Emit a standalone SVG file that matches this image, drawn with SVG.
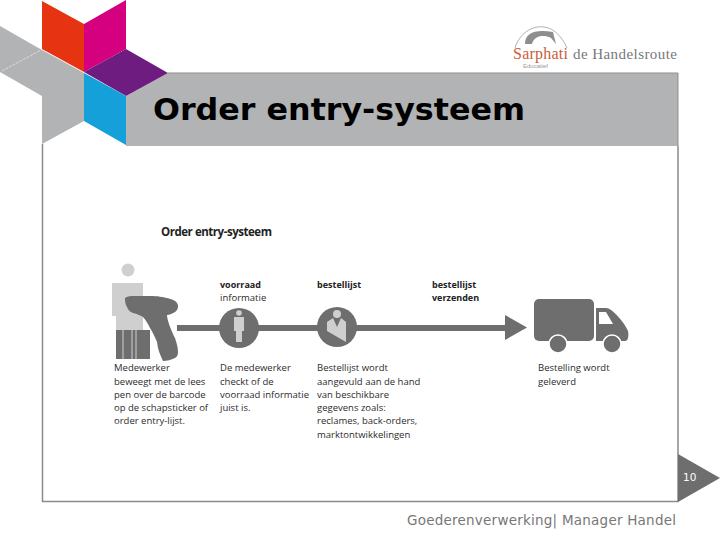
<svg xmlns="http://www.w3.org/2000/svg" width="720" height="540" viewBox="0 0 720 540">
<style>
.b{font-family:"Open Sans","Liberation Sans",sans-serif;font-size:9.500px;fill:#2c2c2c}
.h{font-family:"Open Sans","Liberation Sans",sans-serif;font-size:9px;font-weight:700;fill:#222}
.g{fill:#6e6e6e}
.l{fill:#cfcfcf}
</style>
<rect width="720" height="540" fill="#fff"/>
<g id="frame">
<path d="M42.500 144V501.500H678V146" fill="#fff" stroke="#8a8a8a" stroke-width="1.500"/>
<path d="M126 96L168 73H678V146H126Z" fill="#b2b3b5"/>
<path d="M168 73H678V146" fill="none" stroke="#8f8f8f" stroke-width="1"/>
</g>
<g id="logo-star">
<path d="M0 26L42 50L84 73V121L42 144V96L0 72Z" fill="#b2b3b5"/>
<path d="M2 71L41 50" fill="none" stroke="#e4e4e4" stroke-width="0.800" stroke-dasharray="3 1"/>
<path d="M42 1L84 24V72L42 49Z" fill="#e63312"/>
<path d="M84 24L126 0V49L84 72Z" fill="#d4007f"/>
<path d="M84 72L126 49L168 73L126 96Z" fill="#6f1c80"/>
<path d="M84 73L126 96V145L84 121Z" fill="#16a0da"/>
</g>
<g id="logo-sarphati">
<path d="M515 48C521 26 552 14 567 48" fill="none" stroke="#9a9a9a" stroke-width="0.800"/>
<path d="M525 44C525 33 535 29 553 32L556 44L551 38C543 34 534 36 532 44Z" fill="#8e8e8e"/>
<text x="513" y="59" font-family="Liberation Serif,serif" font-size="16" fill="#c9603a" textLength="55">Sarphati</text>
<text x="573" y="59" font-family="Liberation Serif,serif" font-size="15" fill="#77787b" textLength="104">de Handelsroute</text>
<text x="523" y="68" font-family="Liberation Sans,sans-serif" font-size="6" fill="#9a9a9a">Educatief</text>
</g>
<text id="title" x="153" y="120" font-family="DejaVu Sans,sans-serif" font-size="31" font-weight="700" fill="#000" textLength="372" lengthAdjust="spacingAndGlyphs">Order entry-systeem</text>
<text id="subtitle" x="161" y="236" font-family="Open Sans,sans-serif" font-size="11.500" font-weight="700" fill="#222" textLength="111">Order entry-systeem</text>
<g id="connectors">
<path d="M177 325H510V331H177Z" class="g"/>
<path d="M505 315L527 327.500L505 340Z" class="g"/>
</g>
<g id="node-medewerker">
<circle cx="128" cy="270" r="6.500" class="l"/>
<path d="M112 283H143V332H116V316H112Z" class="l"/>
<rect x="116" y="330" width="34" height="29" class="g"/>
<path d="M123 330V359M132 330V359M136 330V359" stroke="#cfcfcf" stroke-width="1" fill="none"/>
<path d="M125 298C128 296 131 296 133 296L150 296C158 296 163 297 167 298C172 299 176 301 177 303C179 306 178 310 175 312C172 314 169 315 167 315C167 320 171 330 175 338C177 344 178 348 178 352C178 355 177 357 175 358C171 360 167 361 163 361C161 357 159 352 158 348L157 342C155 337 153 333 150 328C148 324 146 320 143 317C140 315 137 314 133 313C130 312 128 310 127 307C125 304 125 301 125 298Z" class="g"/>
</g>
<g id="node-voorraad">
<circle cx="239" cy="328" r="20" class="g"/>
<circle cx="239" cy="313" r="2.800" class="l"/>
<path d="M234 317H244V331H242V342H236V331H234Z" class="l"/>
</g>
<g id="node-bestellijst">
<circle cx="337" cy="327" r="20" class="g"/>
<circle cx="337" cy="314" r="4" class="l"/>
<path d="M327 322L333 318L337 327L341 318L346 322V342L327 331Z" class="l"/>
</g>
<g id="node-truck">
<rect x="534" y="299" width="60" height="42" rx="5" class="g"/>
<path d="M596 308H606C612 308 624 322 628 331C629 336 628 341 625 341H596Z" class="g"/>
<path d="M599 312H606L613 324H599Z" fill="#fff"/>
<circle cx="558" cy="344" r="9" class="g" stroke="#fff" stroke-width="1.500"/>
<circle cx="612" cy="344" r="9" class="g" stroke="#fff" stroke-width="1.500"/>
</g>
<g id="labels">
<text class="h" x="220" y="288">voorraad</text>
<text class="b" x="220" y="301">informatie</text>
<text class="h" x="317" y="288">bestellijst</text>
<text class="h" x="432" y="288">bestellijst</text>
<text class="h" x="432" y="301">verzenden</text>
<text class="b" x="114" y="371">Medewerker</text>
<text class="b" x="114" y="385">beweegt met de lees</text>
<text class="b" x="114" y="398">pen over de barcode</text>
<text class="b" x="114" y="411">op de schapsticker of</text>
<text class="b" x="114" y="424">order entry-lijst.</text>
<text class="b" x="220" y="371">De medewerker</text>
<text class="b" x="220" y="385">checkt of de</text>
<text class="b" x="220" y="398">voorraad informatie</text>
<text class="b" x="220" y="411">juist is.</text>
<text class="b" x="317" y="371">Bestellijst wordt</text>
<text class="b" x="317" y="385">aangevuld aan de hand</text>
<text class="b" x="317" y="398">van beschikbare</text>
<text class="b" x="317" y="411">gegevens zoals:</text>
<text class="b" x="317" y="424">reclames, back-orders,</text>
<text class="b" x="317" y="438">marktontwikkelingen</text>
<text class="b" x="538" y="371">Bestelling wordt</text>
<text class="b" x="538" y="385">geleverd</text>
</g>
<g id="page-number">
<path d="M678 454L720 478L678 502Z" class="g"/>
<text x="683" y="481" font-family="DejaVu Sans,sans-serif" font-size="10.500" fill="#fff">10</text>
</g>
<text id="footer" x="407" y="525" font-family="DejaVu Sans,sans-serif" font-size="13.500" fill="#777" textLength="269">Goederenverwerking| Manager Handel</text>
</svg>
